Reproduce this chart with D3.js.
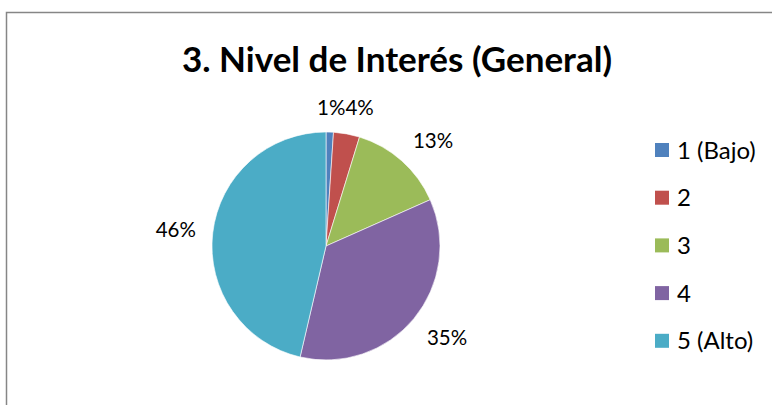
<!DOCTYPE html>
<html>
<head>
<meta charset="utf-8">
<script src="https://cdn.jsdelivr.net/npm/d3@7"></script>
<style>
  body { margin: 0; background: #fff; }
  text { font-family: Lato, "Open Sans", sans-serif; fill: #000; }
</style>
</head>
<body>
<div id="chart"></div>
<script>

// data (percent of answers)
var categories = ["1 (Bajo)", "2", "3", "4", "5 (Alto)"];
var values     = [1.05, 3.7, 13.6, 35.3, 46.35];
var labels     = ["1%", "4%", "13%", "35%", "46%"];
var colors     = ["#4F81BD", "#C0504D", "#9BBB59", "#8064A2", "#4BACC6"];

var title = "3. Nivel de Interés (General)";

var width = 772, height = 405;
var pie_c = {x: 326, y: 246, r: 114};
var leg = {x: 655, y: 150, step: 47.7, box: 14};

var svg = d3.select("#chart").append("svg")
    .attr("width", width)
    .attr("height", height);

// frame of the chart area, runs off the right and bottom edges
svg.append("rect")
    .attr("x", 6.5)
    .attr("y", 12.5)
    .attr("width", width + 20)
    .attr("height", height + 20)
    .attr("fill", "#fff")
    .attr("stroke", "#868686")
    .attr("stroke-width", 1.5);

svg.append("text")
    .attr("x", 397)
    .attr("y", 72)
    .attr("text-anchor", "middle")
    .attr("font-weight", "bold")
    .attr("font-size", 35)
    .text(title);

var pie = d3.pie().sort(null).value(function(d) { return d; });
var arcs = pie(values);
var arc = d3.arc().innerRadius(0).outerRadius(pie_c.r);

var pg = svg.append("g")
    .attr("transform", "translate(" + pie_c.x + "," + pie_c.y + ")");

pg.selectAll("path.slice")
    .data(arcs)
    .enter()
    .append("path")
    .attr("class", "slice")
    .attr("d", arc)
    .attr("fill", function(d, i) { return colors[i]; })
    .attr("stroke", "#fff")
    .attr("stroke-width", 0.6);

// data labels outside the end of each slice
var lab = pg.selectAll("text.lab")
    .data(arcs)
    .enter()
    .append("text")
    .attr("class", "lab")
    .attr("font-size", 20.5)
    .attr("text-anchor", "middle")
    .text(function(d, i) { return labels[i]; });

var lab_r = 131, glyph_h = 15;
function side(t) { return Math.max(-1, Math.min(1, 2 * t)); }
var boxes = [];
lab.each(function(d, i) {
    var w = this.getBBox().width;
    var a = (d.startAngle + d.endAngle) / 2;
    var ux = Math.sin(a), uy = -Math.cos(a);
    // the box corner nearest the pie sits on the label circle
    var cx = lab_r * ux + side(ux) * w / 2;
    var cy = lab_r * uy + side(uy) * glyph_h / 2;
    // push right if it overlaps the previous label
    if (i > 0) {
        var p = boxes[i - 1];
        if (Math.abs(cy - p.cy) < glyph_h && cx - w / 2 < p.cx + p.w / 2) {
            cx = p.cx + p.w / 2 + w / 2;
            cy = p.cy;
        }
    }
    boxes.push({cx: cx, cy: cy, w: w});
    d3.select(this)
        .attr("x", cx)
        .attr("y", cy + glyph_h / 2);
});

// legend
var lg = svg.append("g");
var li = lg.selectAll("g")
    .data(categories)
    .enter()
    .append("g")
    .attr("transform", function(d, i) {
        return "translate(" + leg.x + "," + (leg.y + i * leg.step) + ")";
    });
li.append("rect")
    .attr("x", 0)
    .attr("y", -leg.box / 2)
    .attr("width", leg.box)
    .attr("height", leg.box)
    .attr("fill", function(d, i) { return colors[i]; });
li.append("text")
    .attr("x", 22)
    .attr("y", 0)
    .attr("dy", "0.36em")
    .attr("font-size", 24)
    .text(function(d) { return d; });

</script>
</body>
</html>
